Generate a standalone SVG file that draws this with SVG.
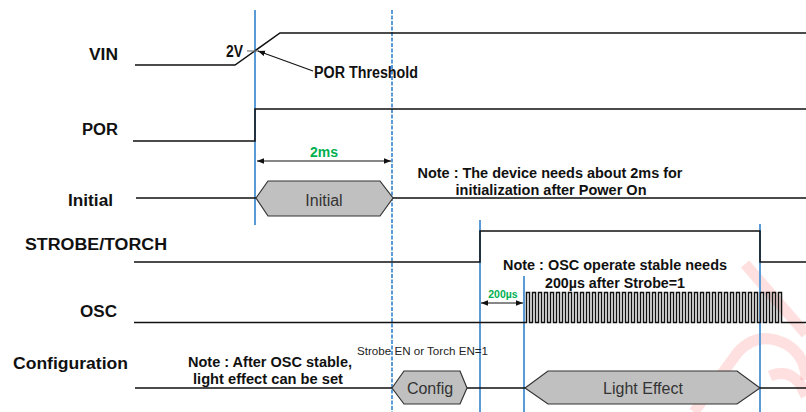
<svg xmlns="http://www.w3.org/2000/svg" width="806" height="412" viewBox="0 0 806 412">
  <style>
    .sig { fill: none; stroke: #111; stroke-width: 1.5; }
    .lbl { font-family: "Liberation Sans", Arial, sans-serif; font-weight: bold; font-size: 16px; fill: #111; }
    .note { font-family: "Liberation Sans", Arial, sans-serif; font-weight: bold; font-size: 14.5px; fill: #111; text-anchor: middle; }
    .dim { font-family: "Liberation Sans", Arial, sans-serif; font-weight: bold; fill: #00B050; text-anchor: middle; }
    .state { fill: #C0C0C0; stroke: #333; stroke-width: 1.2; }
    .stext { font-family: "Liberation Sans", Arial, sans-serif; font-size: 16px; fill: #333; text-anchor: middle; }
    .mark { stroke: #5B9BD5; stroke-width: 2; fill: none; }
    .mark-dash { stroke: #5B9BD5; stroke-width: 2; stroke-dasharray: 4 1.5; fill: none; }
    .arr { stroke: #111; stroke-width: 1.2; fill: none; }
  </style>
  <defs>
    <marker id="ah" viewBox="0 0 10 10" refX="10" refY="5" markerWidth="7" markerHeight="7" orient="auto-start-reverse" markerUnits="userSpaceOnUse">
      <path d="M0,1 L10,5 L0,9 z" fill="#111"/>
    </marker>
  </defs>

  <rect width="806" height="412" fill="#fff"/>

  <!-- faint logo in the lower right corner -->
  <g id="logo" fill="none" stroke="#FF0000" stroke-opacity="0.12" stroke-width="11" stroke-linecap="butt">
    <path d="M745,264 L806,334"/>
    <path d="M694,412 L738,352 Q758,330 786,344 Q806,356 806,380"/>
    <path d="M770,376 Q788,368 800,384 L806,396"/>
  </g>

  <!-- signal labels -->
  <g id="labels">
    <text class="lbl" x="89" y="60" textLength="29" lengthAdjust="spacingAndGlyphs">VIN</text>
    <text class="lbl" x="82" y="135" textLength="36" lengthAdjust="spacingAndGlyphs">POR</text>
    <text class="lbl" x="68" y="206" textLength="45" lengthAdjust="spacingAndGlyphs">Initial</text>
    <text class="lbl" x="25" y="250" textLength="142" lengthAdjust="spacingAndGlyphs">STROBE/TORCH</text>
    <text class="lbl" x="80" y="317" textLength="37" lengthAdjust="spacingAndGlyphs">OSC</text>
    <text class="lbl" x="13" y="369" textLength="115" lengthAdjust="spacingAndGlyphs">Configuration</text>
  </g>

  <!-- time markers -->
  <g id="markers">
    <line class="mark" x1="255" y1="10" x2="255" y2="225"/>
    <line class="mark-dash" x1="392" y1="10" x2="392" y2="412"/>
    <line class="mark" x1="480" y1="220" x2="480" y2="412"/>
    <line class="mark" x1="524" y1="276" x2="524" y2="412"/>
    <line class="mark" x1="760" y1="224" x2="760" y2="412"/>
  </g>

  <!-- waveforms -->
  <g id="connectors">
    <path id="vin" class="sig" d="M135,65 H235 L280,33 H806"/>
    <line x1="247" y1="51" x2="259" y2="51" stroke="#777" stroke-width="1.2"/>
    <path id="por" class="sig" d="M133,141 H255 V109 H806"/>
    <path id="init" class="sig" d="M136,198 H256 M393,198 H806"/>
    <path id="strobe" class="sig" d="M134,262 H480 V231 H760 V262 H806"/>
    <!-- oscillator clock: 43 periods of 6 px, edges on half pixels for crisp lines -->
    <path id="osc" class="sig" stroke-width="1" d="M134,322.5 H526.5
      V292.5 h3 V322.5 h3 V292.5 h3 V322.5 h3 V292.5 h3 V322.5 h3 V292.5 h3 V322.5 h3 V292.5 h3 V322.5 h3
      V292.5 h3 V322.5 h3 V292.5 h3 V322.5 h3 V292.5 h3 V322.5 h3 V292.5 h3 V322.5 h3 V292.5 h3 V322.5 h3
      V292.5 h3 V322.5 h3 V292.5 h3 V322.5 h3 V292.5 h3 V322.5 h3 V292.5 h3 V322.5 h3 V292.5 h3 V322.5 h3
      V292.5 h3 V322.5 h3 V292.5 h3 V322.5 h3 V292.5 h3 V322.5 h3 V292.5 h3 V322.5 h3 V292.5 h3 V322.5 h3
      V292.5 h3 V322.5 h3 V292.5 h3 V322.5 h3 V292.5 h3 V322.5 h3 V292.5 h3 V322.5 h3 V292.5 h3 V322.5 h3
      V292.5 h3 V322.5 h3 V292.5 h3 V322.5 h3 V292.5 h3 V322.5 h3 V292.5 h3 V322.5 h3 V292.5 h3 V322.5 h3
      V292.5 h3 V322.5 h3 V292.5 h3 V322.5 h3 V292.5 h3 V322.5 h3 V292.5 h3 V322.5 h3 V292.5 h3 V322.5 h3
      V292.5 h3 V322.5 h3 V292.5 h3 V322.5 h3 V292.5 h3 V322.5 h3 V292.5 h3 V322.5 h3 V292.5 h3 V322.5 h3
      V292.5 h3 V322.5 h3 V292.5 h3 V322.5 h3 V292.5 h3 V322.5 h3
      H806"/>
    <path id="cfg" class="sig" d="M135,388 H392 M467,388 H525 M760,388 H806"/>

    <!-- dimension arrows -->
    <line class="arr" x1="313" y1="71" x2="258" y2="51" marker-end="url(#ah)"/>
    <line class="arr" x1="257" y1="161" x2="391" y2="161" marker-start="url(#ah)" marker-end="url(#ah)"/>
    <line class="arr" x1="481" y1="303" x2="523" y2="303" marker-start="url(#ah)" marker-end="url(#ah)"/>
  </g>

  <!-- state boxes -->
  <g id="initial-state">
    <path class="state" d="M256,198 L268,181 H380 L393,198 L380,216 H268 Z"/>
    <text class="stext" x="324" y="206" font-size="15">Initial</text>
  </g>
  <g id="config-state">
    <path class="state" d="M392,388 L404,371 H460 L467,388 L460,404 H404 Z"/>
    <text class="stext" x="430" y="394">Config</text>
  </g>
  <g id="light-state">
    <path class="state" d="M525,388 L548,371 H737 L760,388 L737,404 H548 Z"/>
    <text class="stext" x="643" y="394">Light Effect</text>
  </g>

  <!-- annotations -->
  <g id="annotations">
    <text class="lbl" x="226" y="57" font-size="14" textLength="17" lengthAdjust="spacingAndGlyphs">2V</text>
    <text class="lbl" x="314" y="78" font-size="14" textLength="104" lengthAdjust="spacingAndGlyphs">POR Threshold</text>
    <text class="dim" x="324" y="157" font-size="14">2ms</text>
    <text class="dim" x="503" y="298" font-size="10.5">200µs</text>
    <text class="note" x="550" y="178" textLength="265" lengthAdjust="spacingAndGlyphs">Note : The device needs about 2ms for</text>
    <text class="note" x="551" y="195" textLength="191" lengthAdjust="spacingAndGlyphs">initialization after Power On</text>
    <text class="note" x="615" y="270" textLength="224" lengthAdjust="spacingAndGlyphs">Note : OSC operate stable needs</text>
    <text class="note" x="615" y="288" textLength="140" lengthAdjust="spacingAndGlyphs">200µs after Strobe=1</text>
    <text class="note" x="270" y="367" textLength="164" lengthAdjust="spacingAndGlyphs">Note : After OSC stable,</text>
    <text class="note" x="268" y="384" textLength="150" lengthAdjust="spacingAndGlyphs">light effect can be set</text>
    <text x="357" y="355" font-family="Liberation Sans, Arial, sans-serif" font-size="10" fill="#222" textLength="131" lengthAdjust="spacingAndGlyphs">Strobe EN or Torch EN=1</text>
  </g>
</svg>
